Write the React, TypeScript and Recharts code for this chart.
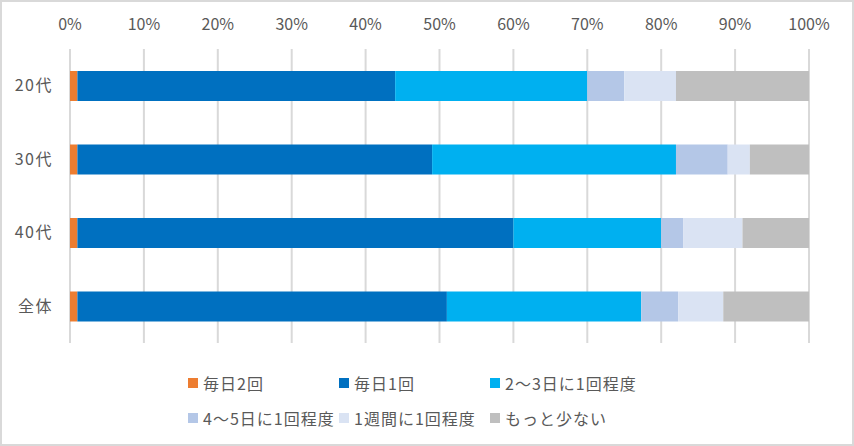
import React from 'react'
import { BarChart, Bar, XAxis, YAxis, CartesianGrid, Legend } from 'recharts'

const categories = ['20代', '30代', '40代', '全体']
const twiceDaily = [1, 1, 1, 1]
const onceDaily = [43, 48, 59, 50]
const every2to3 = [26, 33, 20, 26.3]
const every4to5 = [5, 7, 3, 5]
const weekly = [7, 3, 8, 6.1]
const less = [18, 8, 9, 11.6]
const xTicks = [0, 10, 20, 30, 40, 50, 60, 70, 80, 90, 100]

const seriesNames = ['毎日2回', '毎日1回', '2～3日に1回程度', '4～5日に1回程度', '1週間に1回程度', 'もっと少ない']
const seriesColors = ['#ED7D31', '#0070C0', '#00B0F0', '#B4C7E7', '#DAE3F3', '#BFBFBF']
const seriesValues = [twiceDaily, onceDaily, every2to3, every4to5, weekly, less]

const data = categories.map((c, i) => {
  const row: Record<string, string | number> = { name: c }
  seriesNames.forEach((s, k) => { row[s] = seriesValues[k][i] })
  return row
})

const FONT = '"Noto Sans CJK JP", "Noto Sans", sans-serif'
const TEXT = '#595959'

function LegendBox() {
  return (
    <div style={{ display: 'grid', gridTemplateColumns: '151px 151px 151px', rowGap: 13, fontFamily: FONT, fontSize: 16, color: TEXT, letterSpacing: 1 }}>
      {seriesNames.map((s, i) => (
        <div key={s} style={{ display: 'flex', alignItems: 'center', height: 22, whiteSpace: 'nowrap' }}>
          <span style={{ width: 10, height: 10, background: seriesColors[i], marginRight: 5, flexShrink: 0 }} />
          <span>{s}</span>
        </div>
      ))}
    </div>
  )
}

export default function App() {
  return (
    <div style={{ position: 'absolute', left: 0, top: 0, width: 854, height: 446, background: '#fff' }}>
      <BarChart
        width={854}
        height={446}
        data={data}
        layout="vertical"
        margin={{ top: 0, right: 45, left: 0, bottom: 43 }}
        barSize={30}
      >
        <CartesianGrid horizontal={false} stroke="#D9D9D9" strokeWidth={2} />
        <XAxis
          type="number"
          orientation="top"
          domain={[0, 100]}
          ticks={xTicks}
          tickFormatter={v => `${v}%`}
          height={49}
          axisLine={false}
          tickLine={false}
          tickSize={0}
          tickMargin={19}
          tick={{ fontSize: 16, fill: TEXT, fontFamily: FONT }}
          interval={0}
        />
        <YAxis
          type="category"
          dataKey="name"
          width={70}
          axisLine={false}
          tickLine={false}
          tickSize={0}
          tickMargin={17}
          tick={{ fontSize: 16, fill: TEXT, fontFamily: FONT, style: { letterSpacing: 1.5 } }}
        />
        {seriesNames.map((s, i) => (
          <Bar key={s} dataKey={s} stackId="a" fill={seriesColors[i]} isAnimationActive={false} />
        ))}
        <Legend
          content={() => <LegendBox />}
          wrapperStyle={{ position: 'absolute', left: 188, top: 372, width: 480, height: 60 }}
        />
      </BarChart>
      <div style={{ position: 'absolute', left: 0, top: 0, width: 854, height: 446, boxSizing: 'border-box', border: '2px solid #D9D9D9', pointerEvents: 'none' }} />
    </div>
  )
}
